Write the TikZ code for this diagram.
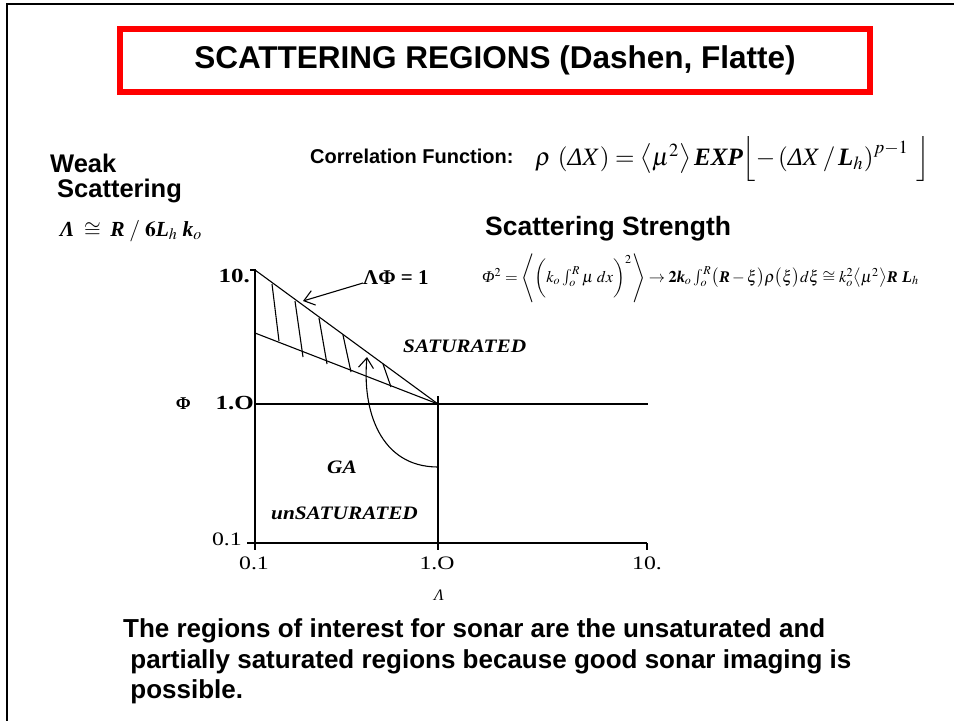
\documentclass[tikz,border=0pt]{standalone}
\usepackage{amsmath}
\usepackage{mathptmx}
\usepackage[no-math]{fontspec}
\setmainfont{Liberation Sans}
\newfontfamily\tms{Liberation Serif}
\usetikzlibrary{arrows.meta}
\newcommand{\itG}[1]{\mbox{\tms\itshape #1}}
\newcommand{\bitG}[1]{\mbox{\tms\bfseries\itshape #1}}
\newcommand{\wide}[1]{\scalebox{1.25}[1]{#1}}

\tikzset{
  axisline/.style={line width=2.4pt},
  thinline/.style={line width=1.1pt},
  openhead/.style={-{Straight Barb[length=10pt,width=15pt,line width=1.1pt]}},
  headline/.style={font=\bfseries\fontsize{25.5}{30}\selectfont, inner sep=0pt, anchor=base west},
  notetext/.style={font=\bfseries\fontsize{26}{31}\selectfont, inner sep=0pt, anchor=base west},
  ticklabel/.style={font=\tms\fontsize{19}{22}\selectfont, inner sep=0pt, anchor=base},
  regionlabel/.style={font=\tms\bfseries\itshape\fontsize{19}{22}\selectfont, inner sep=0pt, anchor=base west},
  formula/.style={inner sep=0pt, anchor=west},
}

\begin{document}
\begin{tikzpicture}[x=1pt,y=1pt,yscale=-1,xscale=1]
\useasboundingbox (0,0) rectangle (954,721);
%Frame
\draw[line width=2pt] (954,4) -- (7,4) -- (7,721);
%Title box
\node[draw={rgb,255:red,255;green,0;blue,0}, line width=5.5pt, minimum width=750pt, minimum height=63pt,
      font=\bfseries\fontsize{31.5}{36}\selectfont] (title) at (495,60.5) {SCATTERING REGIONS (Dashen, Flatte)};

% Text Node
\node[headline] (weak) at (50,172) {Weak};
\node[headline] (scat) at (57,197) {Scattering};
\node[headline, font=\bfseries\fontsize{20}{24}\selectfont] (corrlabel) at (310,163) {Correlation Function:};
\node[formula] (corr) at (535,159) {\scalebox{2.5}{$\rho\ (\itG{Δ}X)=\left\langle\mu^2\right\rangle\bitG{EXP}\!\left\lfloor-\left(\itG{Δ}X\,/\,\bitG{L}_h\right)^{p-1}\ \right\rfloor$}};
\node[headline, font=\bfseries\fontsize{26.5}{31}\selectfont] (strength) at (485,235) {Scattering Strength};
\node[formula] (lamdef) at (60,231) {\scalebox{2.15}{$\bitG{Λ}\;\cong\;\bitG{R}\;/\;\mathbf{6}\bitG{L}_h\;\bitG{k}_o$}};
\node[formula] (phidef) at (482,278) {\scalebox{1.63}{$\itG{Φ}^2=\Biggl\langle\biggl(k_o\int_o^R\mu\;dx\biggr)^{2}\Biggr\rangle\rightarrow\mathbf{2}\bitG{k}_o\int_o^R\bigl(\bitG{R}-\xi\bigr)\rho\bigl(\xi\bigr)d\xi\cong k_o^2\bigl\langle\mu^2\bigr\rangle\bitG{R}\ \bitG{L}_h$}};
\node[inner sep=0pt, anchor=base west, font=\tms\bfseries\fontsize{21}{24}\selectfont] (lamphi) at (363,284) {ΛΦ = 1};

%Chart points
\coordinate (orig) at (255,543);
\coordinate (ytop) at (255,270);
\coordinate (xend) at (647,543);
\coordinate (one) at (438,404);
\coordinate (lowstart) at (255,333);
\coordinate (phiend) at (648,404);
\coordinate (lamtop) at (438,396);
\coordinate (curvestart) at (438,467);
\coordinate (curvetip) at (367,357);
\coordinate (linetail) at (363,283);
\coordinate (lineptr) at (303,301);

%Axes
\draw[axisline] (247,543) -- (xend);
\draw[axisline] (orig) -- (ytop) -- ++(-5,0);
\foreach \tx in {255,438,647} \draw[axisline] (\tx,543) -- (\tx,550);
\draw[axisline] (one) -- (phiend);
\draw[axisline] (ytop |- one) -- (one);
\draw[axisline] (lamtop) -- (lamtop |- orig);
%Straight Lines
\draw[thinline] (ytop) -- (one);
\draw[thinline] (lowstart) -- (one);
\foreach \xa/\ya/\xb/\yb in {272/284/279/341, 295/301/303/357, 319/318/327/364, 343/335/351/372, 383/364/391/387}
  \draw[thinline] (\xa,\ya) -- (\xb,\yb);
%Arrows
\draw[thinline, openhead] (linetail) -- (lineptr);
\draw[thinline, openhead] (curvestart) .. controls (380,467) and (362,410) .. (curvetip);

% Tick labels
\node[ticklabel, font=\tms\bfseries\fontsize{20}{22}\selectfont, anchor=base east] (y10) at (250,282) {\wide{10.}};
\node[ticklabel, font=\tms\bfseries\fontsize{20}{22}\selectfont, anchor=base east] (y1) at (254,409) {\wide{1.O}};
\node[ticklabel, font=\tms\bfseries\fontsize{18}{22}\selectfont, anchor=base east] (phi) at (191,409) {Φ};
\node[ticklabel, anchor=base east] (y01) at (242,545) {\wide{0.1}};
\node[ticklabel] (x01) at (254,569) {\wide{0.1}};
\node[ticklabel] (x1) at (437,569) {\wide{1.O}};
\node[ticklabel] (x10) at (647,569) {\wide{10.}};
\node[ticklabel, font=\tms\itshape\fontsize{16}{20}\selectfont] (lam) at (439,600) {Λ};

% Region labels
\node[regionlabel] (sat) at (403,352) {\scalebox{1.12}[1]{SATURATED}};
\node[regionlabel] (ga) at (327,473) {\scalebox{1.12}[1]{GA}};
\node[regionlabel] (unsat) at (271,519) {\scalebox{1.12}[1]{unSATURATED}};

% Note
\node[notetext] (note1) at (123,637) {The regions of interest for sonar are the unsaturated and};
\node[notetext] (note2) at (123,668) {\ partially saturated regions because good sonar imaging is};
\node[notetext] (note3) at (123,698) {\ possible.};
\end{tikzpicture}
\end{document}
